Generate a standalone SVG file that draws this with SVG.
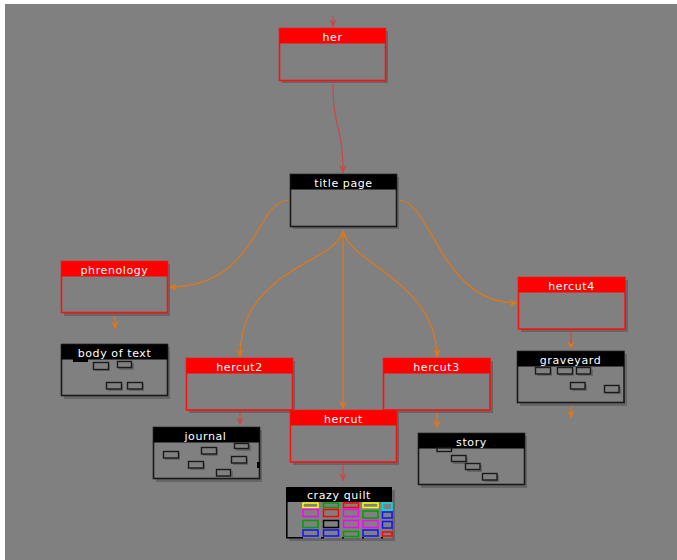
<svg xmlns="http://www.w3.org/2000/svg" width="677" height="560" viewBox="0 0 677 560">
<defs>
<style>
.bg{fill:#808080}
.sh{fill:#666666}
.rb{fill:#808080;stroke:#ff1010;stroke-width:1.6}
.rh{fill:#ff0000}
.bb{fill:#808080;stroke:#1a1a1a;stroke-width:1.6}
.bh{fill:#000000}
.t{font-family:"DejaVu Sans","Liberation Sans",sans-serif;font-size:11px;letter-spacing:0.6px;fill:#ffffff;text-anchor:middle}
.ir{fill:#808080;stroke:#1a1a1a;stroke-width:1.4}
.is{fill:#666666}
.co{fill:none;stroke:#e07818;stroke-width:1.2}
.cr{fill:none;stroke:#c84848;stroke-width:1.2}
.q{fill:#808080;stroke-width:1.5}
</style>
<marker id="ao" markerUnits="userSpaceOnUse" markerWidth="10" markerHeight="10" refX="8" refY="4" orient="auto">
<path d="M0,0 L8,4 L0,8 L3,4 Z" fill="#e07818"/>
</marker>
<marker id="aos" markerUnits="userSpaceOnUse" markerWidth="10" markerHeight="10" refX="8" refY="4" orient="auto-start-reverse">
<path d="M0,0 L8,4 L0,8 L3,4 Z" fill="#e07818"/>
</marker>
<marker id="ar" markerUnits="userSpaceOnUse" markerWidth="10" markerHeight="10" refX="8" refY="4" orient="auto">
<path d="M0,0 L8,4 L0,8 L3,4 Z" fill="#c84848"/>
</marker>
</defs>
<rect x="0" y="0" width="677" height="560" fill="#ffffff"/>
<rect x="5" y="4" width="672" height="556" class="bg"/>

<g id="connectors">
<path class="cr" d="M333,16 L333,27" marker-end="url(#ar)"/>
<path class="cr" d="M333,84 C333,130 343,125 343,173" marker-end="url(#ar)"/>
<path class="co" d="M289,200 C255,200 258,287 169,287" marker-end="url(#ao)"/>
<path class="co" d="M398,200 C432,200 440,303 517,303" marker-end="url(#ao)"/>
<path class="co" d="M343,230 L343,409" marker-start="url(#aos)" marker-end="url(#ao)"/>
<path class="co" d="M343,233 C330,265 240,270 240,357" marker-end="url(#ao)"/>
<path class="co" d="M343,233 C355,265 437,285 437,357" marker-end="url(#ao)"/>
<path class="co" d="M115,316 L115,329" marker-end="url(#ao)"/>
<path class="cr" d="M240,413 L240,425" marker-end="url(#ar)"/>
<path class="cr" d="M343,465 L343,481" marker-end="url(#ar)"/>
<path class="co" d="M437,413 L437,428" marker-end="url(#ao)"/>
<path class="cr" d="M571,332 L571,349" marker-end="url(#ao)"/>
<path class="co" d="M571,405 L571,418" marker-end="url(#ao)"/>
</g>

<g id="her">
<rect class="sh" x="282" y="31" width="106" height="52"/>
<rect class="rb" x="279.5" y="28.5" width="106" height="52"/>
<rect class="rh" x="279.5" y="28.5" width="106" height="15"/>
<text class="t" x="332.5" y="40.5">her</text>
</g>

<g id="title_page">
<rect class="sh" x="293" y="177" width="106" height="52"/>
<rect class="bb" x="290.5" y="174.5" width="106" height="52"/>
<rect class="bh" x="290.5" y="174.5" width="106" height="15"/>
<text class="t" x="343.5" y="186.5">title page</text>
</g>

<g id="phrenology">
<rect class="sh" x="64" y="264" width="106" height="52"/>
<rect class="rb" x="61.5" y="261.5" width="106" height="51"/>
<rect class="rh" x="61.5" y="261.5" width="106" height="15"/>
<text class="t" x="114.5" y="273.5">phrenology</text>
</g>

<g id="body_of_text">
<rect class="sh" x="64" y="347" width="106" height="52"/>
<rect class="bb" x="61.5" y="344.5" width="106" height="51"/>
<rect class="bh" x="61.5" y="344.5" width="106" height="15"/>
<rect class="bh" x="73" y="359" width="15" height="3"/>
<text class="t" x="114.5" y="356.5">body of text</text>
<rect class="is" x="95" y="364" width="15" height="7"/>
<rect class="ir" x="93.5" y="362.5" width="15" height="7"/>
<rect class="is" x="119" y="363" width="15" height="7"/>
<rect class="ir" x="117.5" y="361.5" width="14" height="6"/>
<rect class="is" x="108" y="384" width="15" height="7"/>
<rect class="ir" x="106.5" y="382.5" width="15" height="6.5"/>
<rect class="is" x="129" y="384" width="15" height="7"/>
<rect class="ir" x="127.5" y="382.5" width="15" height="6.5"/>
</g>

<g id="hercut2">
<rect class="sh" x="189" y="361" width="106" height="52"/>
<rect class="rb" x="186.5" y="358.5" width="106" height="51.5"/>
<rect class="rh" x="186.5" y="358.5" width="106" height="15"/>
<text class="t" x="239.5" y="370.5">hercut2</text>
</g>

<g id="journal">
<rect class="sh" x="156" y="430" width="106" height="52"/>
<rect class="bb" x="153.5" y="427.5" width="106" height="51"/>
<rect class="bh" x="153.5" y="427.5" width="106" height="15"/>
<text class="t" x="205.5" y="439.5">journal</text>
<rect class="is" x="165" y="453" width="15" height="7"/>
<rect class="ir" x="163.5" y="451.5" width="15" height="6.5"/>
<rect class="is" x="203" y="449" width="15" height="7"/>
<rect class="ir" x="201.5" y="447.5" width="15" height="6.5"/>
<rect class="is" x="236" y="445" width="15" height="6"/>
<rect class="ir" x="234.5" y="443.5" width="14" height="5"/>
<rect class="is" x="233" y="458" width="15" height="7"/>
<rect class="ir" x="231.5" y="456.5" width="15" height="6.5"/>
<rect class="is" x="190" y="463" width="15" height="7"/>
<rect class="ir" x="188.5" y="461.5" width="15" height="6.5"/>
<rect class="is" x="218" y="471" width="15" height="7"/>
<rect class="ir" x="216.5" y="469.5" width="14" height="6.5"/>
<rect class="bh" x="257" y="462" width="3" height="6"/>
</g>

<g id="hercut3">
<rect class="sh" x="386" y="361" width="107" height="52"/>
<rect class="rb" x="383.5" y="358.5" width="106.5" height="51.5"/>
<rect class="rh" x="383.5" y="358.5" width="106.5" height="15"/>
<text class="t" x="436.5" y="370.5">hercut3</text>
</g>

<g id="hercut">
<rect class="sh" x="293" y="413" width="106" height="52"/>
<rect class="rb" x="290.5" y="410.5" width="106" height="51.5"/>
<rect class="rh" x="290.5" y="410.5" width="106" height="15"/>
<text class="t" x="343.5" y="422.5">hercut</text>
</g>

<g id="story">
<rect class="sh" x="421" y="436" width="106" height="52"/>
<rect class="bb" x="418.5" y="433.5" width="106" height="51"/>
<rect class="bh" x="418.5" y="433.5" width="106" height="15"/>
<text class="t" x="471.5" y="445.5">story</text>
<rect class="ir" x="437" y="448" width="14.5" height="3.5"/>
<rect class="is" x="453" y="457" width="15" height="7"/>
<rect class="ir" x="451.5" y="455.5" width="14.5" height="6"/>
<rect class="is" x="467" y="465" width="15" height="7"/>
<rect class="ir" x="465.5" y="463.5" width="14.5" height="6"/>
<rect class="is" x="484" y="475" width="15" height="7"/>
<rect class="ir" x="482.5" y="473.5" width="14.5" height="6.5"/>
</g>

<g id="hercut4">
<rect class="sh" x="521" y="280" width="107" height="52"/>
<rect class="rb" x="518.5" y="277.5" width="106.5" height="51.5"/>
<rect class="rh" x="518.5" y="277.5" width="106.5" height="15"/>
<text class="t" x="571.5" y="289.5">hercut4</text>
</g>

<g id="graveyard">
<rect class="sh" x="520" y="354" width="107" height="52"/>
<rect class="bb" x="517.5" y="351.5" width="106.5" height="51"/>
<rect class="bh" x="517.5" y="351.5" width="106.5" height="15"/>
<text class="t" x="570.5" y="363.5">graveyard</text>
<rect class="is" x="537" y="369" width="15" height="7"/>
<rect class="ir" x="535.5" y="367.5" width="15" height="6.5"/>
<rect class="is" x="559" y="369" width="15" height="7"/>
<rect class="ir" x="557.5" y="367.5" width="15" height="6.5"/>
<rect class="is" x="578" y="369" width="15" height="7"/>
<rect class="ir" x="576.5" y="367.5" width="14" height="6.5"/>
<rect class="is" x="572" y="384" width="15" height="7"/>
<rect class="ir" x="570.5" y="382.5" width="14.5" height="6.5"/>
<rect class="is" x="606" y="387" width="15" height="7"/>
<rect class="ir" x="604.5" y="385.5" width="14.5" height="7"/>
</g>

<g id="crazy_quilt">
<rect class="sh" x="289" y="490" width="106" height="51"/>
<rect x="286" y="487" width="106" height="51" fill="#808080"/>
<rect class="bh" x="286" y="487" width="106" height="15"/>
<text class="t" x="339" y="499">crazy quilt</text>
<path d="M286.8,501 L286.8,537.8 L303,537.8" fill="none" stroke="#000" stroke-width="1.6"/>
<path d="M321,537.8 h3 M342,537.8 h2 M362,537.8 h2 M381,537.8 h2" fill="none" stroke="#000" stroke-width="1.6"/>
<rect class="q" x="303" y="503" width="15" height="4.5" stroke="#ffff00"/>
<rect class="q" x="323.5" y="503" width="15" height="4.5" stroke="#00a000"/>
<rect class="q" x="343.5" y="503" width="15" height="4.5" stroke="#ff0000"/>
<rect class="q" x="363" y="503" width="15" height="4.5" stroke="#ffff00"/>
<rect class="q" x="382.5" y="503" width="9.5" height="7" stroke="#00e0e0"/>
<rect class="q" x="303" y="509.5" width="15" height="7" stroke="#ff00ff"/>
<rect class="q" x="323.5" y="509.5" width="15" height="7" stroke="#ff0000"/>
<rect class="q" x="343.5" y="509.5" width="15" height="7" stroke="#ff00ff"/>
<rect class="q" x="363" y="511" width="15" height="7" stroke="#00a000"/>
<rect class="q" x="382.5" y="512" width="9.5" height="6" stroke="#1010ff"/>
<rect class="q" x="303" y="520.5" width="15" height="7" stroke="#00a000"/>
<rect class="q" x="323.5" y="520.5" width="15" height="7" stroke="#000000"/>
<rect class="q" x="343.5" y="520.5" width="15" height="7" stroke="#ff00ff"/>
<rect class="q" x="363" y="520.5" width="15" height="7" stroke="#ff00ff"/>
<rect class="q" x="382.5" y="521.5" width="9.5" height="6.5" stroke="#1010ff"/>
<rect class="q" x="303" y="530" width="15" height="6" stroke="#1010ff"/>
<rect class="q" x="323.5" y="530" width="15" height="6" stroke="#1010ff"/>
<rect class="q" x="343.5" y="531.5" width="15" height="5" stroke="#00a000"/>
<rect class="q" x="363" y="530" width="15" height="6" stroke="#1010ff"/>
<rect class="q" x="382.5" y="532" width="9.5" height="4" stroke="#ff0000"/>
</g>
</svg>
